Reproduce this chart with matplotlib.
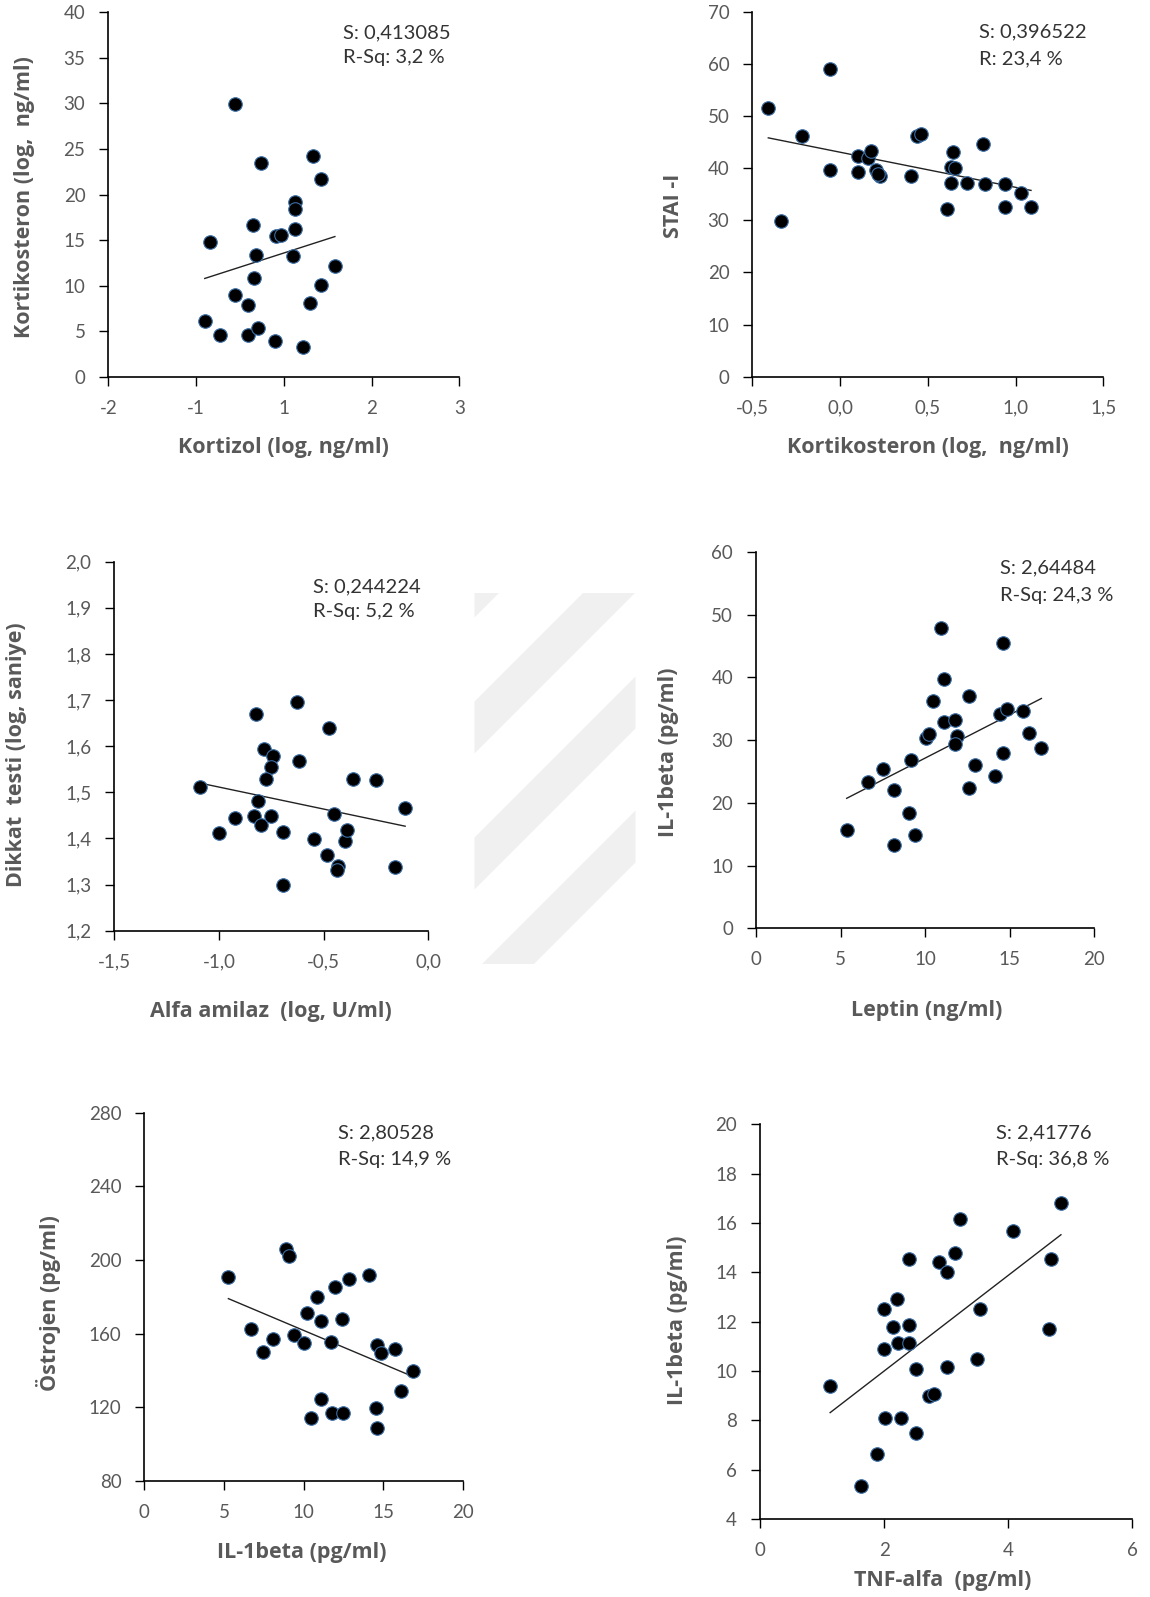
import numpy as np
import matplotlib.pyplot as plt

plt.rcParams['font.family'] = ['Lato', 'DejaVu Sans']

# --- data ---
# panel 1: Kortizol vs Kortikosteron
kortizol = [-0.555, -0.840, -0.259, 0.331, 0.422, 0.122, 0.122, -0.354, -0.087, -0.030,
            0.122, -0.316, 0.103, -0.335, 0.582, -0.559, -0.403, 0.422, 0.304, -0.901,
            -0.722, -0.407, -0.289, -0.106, 0.217]
kortikosteron_1 = [29.9, 14.75, 23.5, 24.2, 21.7, 19.2, 18.4, 16.7, 15.4, 15.6,
                   16.2, 13.4, 13.2, 10.8, 12.1, 9.0, 7.9, 10.1, 8.1, 6.15,
                   4.6, 4.6, 5.3, 3.95, 3.26]
fit_1 = (13.58, 3.10)  # intercept, slope
stats_1 = ['S: 0,413085', 'R-Sq: 3,2 %']

# panel 2: Kortikosteron vs STAI-I
kortikosteron_2 = [-0.409, -0.057, -0.339, -0.215, -0.057, 0.104, 0.104, 0.157, 0.174, 0.203,
                   0.227, 0.218, 0.404, 0.438, 0.461, 0.641, 0.632, 0.655, 0.632, 0.607,
                   0.721, 0.812, 0.828, 0.940, 0.940, 1.029, 1.088]
stai = [51.5, 59.1, 29.9, 46.1, 39.6, 42.3, 39.2, 41.9, 43.2, 39.6,
        38.4, 38.9, 38.4, 46.1, 46.5, 43.0, 40.3, 40.0, 37.2, 32.2,
        37.2, 44.6, 36.9, 36.9, 32.6, 35.3, 32.6]
fit_2 = (43.05, -6.73)
stats_2 = ['S: 0,396522', 'R: 23,4 %']

# panel 3: Alfa amilaz vs Dikkat testi
amilaz = [-1.089, -1.002, -0.925, -0.823, -0.783, -0.744, -0.752, -0.774, -0.812, -0.833,
          -0.801, -0.752, -0.696, -0.696, -0.629, -0.618, -0.546, -0.484, -0.476, -0.449,
          -0.430, -0.438, -0.398, -0.389, -0.361, -0.250, -0.161, -0.111]
dikkat = [1.512, 1.412, 1.444, 1.669, 1.595, 1.578, 1.555, 1.529, 1.482, 1.448,
          1.430, 1.448, 1.413, 1.300, 1.695, 1.568, 1.399, 1.365, 1.639, 1.452,
          1.340, 1.331, 1.395, 1.418, 1.529, 1.526, 1.339, 1.465]
fit_3 = (1.416, -0.0954)
stats_3 = ['S: 0,244224', 'R-Sq: 5,2 %']

# panel 4: Leptin vs IL-1beta
leptin = [5.36, 6.64, 7.49, 8.18, 8.18, 9.16, 9.04, 9.40, 10.05, 10.25,
          10.44, 10.92, 11.13, 11.13, 11.76, 11.90, 11.76, 12.57, 12.95, 12.57,
          14.13, 14.42, 14.82, 14.58, 14.58, 15.80, 16.14, 16.87]
il1beta_4 = [15.6, 23.3, 25.4, 22.0, 13.3, 26.8, 18.4, 14.9, 30.3, 31.0,
             36.3, 47.8, 39.8, 32.8, 33.2, 30.6, 29.3, 37.0, 26.1, 22.3,
             24.2, 34.1, 35.0, 45.5, 28.0, 34.7, 31.2, 28.7]
fit_4 = (13.31, 1.382)
stats_4 = ['S: 2,64484', 'R-Sq: 24,3 %']

# panel 5: IL-1beta vs Östrojen
il1beta_5 = [5.28, 6.68, 7.43, 8.06, 8.90, 9.11, 9.40, 10.05, 10.20, 10.45,
             10.83, 11.08, 11.08, 11.73, 11.79, 11.96, 12.44, 12.46, 12.84, 14.09,
             14.53, 14.60, 14.60, 14.85, 15.75, 16.13, 16.90]
ostrojen = [190.6, 162.4, 150.2, 157.1, 206.2, 202.4, 159.1, 154.8, 171.0, 114.4,
            179.7, 166.7, 124.3, 155.7, 116.7, 185.2, 167.8, 116.7, 189.5, 191.9,
            119.8, 109.0, 153.7, 149.3, 151.7, 128.9, 139.5]
fit_5 = (198.3, -3.65)
stats_5 = ['S: 2,80528', 'R-Sq: 14,9 %']

# panel 6: TNF-alfa vs IL-1beta
tnf = [1.13, 1.62, 1.89, 2.00, 2.00, 2.01, 2.14, 2.20, 2.22, 2.27,
       2.40, 2.40, 2.40, 2.51, 2.51, 2.72, 2.80, 2.88, 3.01, 3.01,
       3.14, 3.23, 3.50, 3.55, 4.08, 4.66, 4.69, 4.85]
il1beta_6 = [9.41, 5.36, 6.66, 12.51, 10.89, 8.12, 11.78, 12.91, 11.13, 8.12,
             14.53, 11.85, 11.13, 10.08, 7.48, 9.01, 9.09, 14.44, 14.03, 10.16,
             14.78, 16.17, 10.48, 12.51, 15.68, 11.70, 14.53, 16.80]
fit_6 = (6.13, 1.937)
stats_6 = ['S: 2,41776', 'R-Sq: 36,8 %']

# ticks
xticks_1 = [-2, -1, 0, 1, 2]
xticklabels_1 = ['-2', '-1', '1', '2', '3']
yticks_1 = [0, 5, 10, 15, 20, 25, 30, 35, 40]
xticks_2 = [-0.5, 0.0, 0.5, 1.0, 1.5]
xticklabels_2 = ['-0,5', '0,0', '0,5', '1,0', '1,5']
yticks_2 = [0, 10, 20, 30, 40, 50, 60, 70]
xticks_3 = [-1.5, -1.0, -0.5, 0.0]
xticklabels_3 = ['-1,5', '-1,0', '-0,5', '0,0']
yticks_3 = [1.2, 1.3, 1.4, 1.5, 1.6, 1.7, 1.8, 1.9, 2.0]
yticklabels_3 = ['1,2', '1,3', '1,4', '1,5', '1,6', '1,7', '1,8', '1,9', '2,0']
xticks_4 = [0, 5, 10, 15, 20]
yticks_4 = [0, 10, 20, 30, 40, 50, 60]
xticks_5 = [0, 5, 10, 15, 20]
yticks_5 = [80, 120, 160, 200, 240, 280]
xticks_6 = [0, 2, 4, 6]
yticks_6 = [4, 6, 8, 10, 12, 14, 16, 18, 20]

GRAY = '#595959'
LABEL_FONT = ['Open Sans', 'DejaVu Sans']


def draw_panel(rect, x, y, fit, xt, xtl, yt, ytl, xlabel, ylabel, stats,
               xlab_pos, ylab_pos, stat_pos):
    ax = fig.add_axes(rect)
    ax.scatter(x, y, s=95, color='black', edgecolor='#3b6ea5', linewidth=0.8, zorder=3)
    xs = np.array([min(x), max(x)])
    ax.plot(xs, fit[0] + fit[1] * xs, color='#222222', lw=1.0, zorder=2)
    ax.set_xlim(xt[0], xt[-1])
    ax.set_ylim(yt[0], yt[-1])
    ax.set_xticks(xt)
    ax.set_xticklabels(xtl if xtl else [str(v) for v in xt])
    ax.set_yticks(yt)
    ax.set_yticklabels(ytl if ytl else [str(v) for v in yt])
    for s in ['top', 'right']:
        ax.spines[s].set_visible(False)
    for s in ['left', 'bottom']:
        ax.spines[s].set_linewidth(1.2)
    ax.tick_params(direction='out', length=6.5, width=1, pad=10,
                   labelsize=13.5, labelcolor=GRAY)
    ax.set_xlabel(xlabel, fontsize=15.5, fontweight='bold', color=GRAY, va='center',
                  family=LABEL_FONT)
    ax.set_ylabel(ylabel, fontsize=15.5, fontweight='bold', color=GRAY, va='center',
                  family=LABEL_FONT)
    ax.xaxis.set_label_coords(*xlab_pos)
    ax.yaxis.set_label_coords(*ylab_pos)
    ax.text(stat_pos[0], stat_pos[1], stats[0], transform=ax.transAxes,
            fontsize=14.5, color='#333333', va='center', ha='left')
    ax.text(stat_pos[0], stat_pos[2], stats[1], transform=ax.transAxes,
            fontsize=14.5, color='#333333', va='center', ha='left')
    return ax


fig = plt.figure(figsize=(11.5, 15.97), dpi=100)

draw_panel([0.0942, 0.7641, 0.3052, 0.2282], kortizol, kortikosteron_1, fit_1,
           xticks_1, xticklabels_1, yticks_1, None,
           'Kortizol (log, ng/ml)', 'Kortikosteron (log,  ng/ml)', stats_1,
           (0.5, -0.193), (-0.240, 0.493), (0.669, 0.943, 0.875))

draw_panel([0.6542, 0.7641, 0.3052, 0.2286], kortikosteron_2, stai, fit_2,
           xticks_2, xticklabels_2, yticks_2, None,
           'Kortikosteron (log,  ng/ml)', 'STAI -I', stats_2,
           (0.5, -0.193), (-0.226, 0.468), (0.646, 0.944, 0.870))

draw_panel([0.0994, 0.4172, 0.2731, 0.2311], amilaz, dikkat, fit_3,
           xticks_3, xticklabels_3, yticks_3, yticklabels_3,
           'Alfa amilaz  (log, U/ml)', 'Dikkat  testi (log, saniye)', stats_3,
           (0.497, -0.220), (-0.310, 0.476), (0.633, 0.931, 0.864))

draw_panel([0.6574, 0.4187, 0.2942, 0.2358], leptin, il1beta_4, fit_4,
           xticks_4, None, yticks_4, None,
           'Leptin (ng/ml)', 'IL-1beta (pg/ml)', stats_4,
           (0.505, -0.217), (-0.260, 0.468), (0.721, 0.957, 0.885))

draw_panel([0.1255, 0.0726, 0.2769, 0.2307], il1beta_5, ostrojen, fit_5,
           xticks_5, None, yticks_5, None,
           'IL-1beta (pg/ml)', 'Östrojen (pg/ml)', stats_5,
           (0.495, -0.195), (-0.302, 0.483), (0.608, 0.945, 0.874))

draw_panel([0.6609, 0.0487, 0.3237, 0.2473], tnf, il1beta_6, fit_6,
           xticks_6, None, yticks_6, None,
           'TNF-alfa  (pg/ml)', 'IL-1beta (pg/ml)', stats_6,
           (0.492, -0.154), (-0.223, 0.505), (0.634, 0.978, 0.912))

# light diagonal watermark stripes between the middle panels
wm = fig.add_axes([474 / 1150, 1 - 963 / 1597, 161 / 1150, 370 / 1597])
wm.set_xlim(0, 161)
wm.set_ylim(0, 370)
wm.axis('off')
xx = np.linspace(0, 161, 50)
for off in [-60, 74, 210, 346]:
    wm.fill_between(xx, xx + off, xx + off + 52, color='#f0f0f0', lw=0)

fig.savefig('out.png', dpi=100)
